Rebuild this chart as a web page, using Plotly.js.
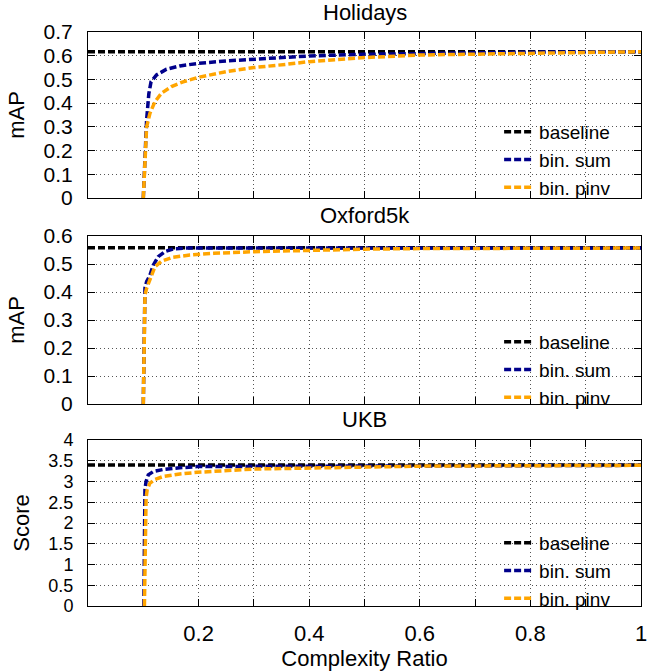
<!DOCTYPE html>
<html>
<head>
<meta charset="utf-8">
<script src="https://cdn.plot.ly/plotly-3.0.1.min.js"></script>
<style>html,body{margin:0;padding:0;background:#fff;}#chart{width:647px;height:671px;}</style>
</head>
<body>
<div id="chart"></div>
<script>
// ---- data ----
const baseX = [0, 1];

const holBase = [0.617, 0.617];
const xHolSum = [0.1, 0.106, 0.110, 0.114, 0.124, 0.142, 0.166, 0.2, 0.25, 0.3, 0.4, 0.5, 0.6, 0.7, 0.8, 0.9, 1.0];
const yHolSum = [0.0, 0.33, 0.44, 0.49, 0.519, 0.543, 0.557, 0.568, 0.578, 0.585, 0.599, 0.606, 0.61, 0.613, 0.615, 0.616, 0.617];
const xHolPinv = [0.1, 0.103, 0.106, 0.112, 0.121, 0.133, 0.151, 0.172, 0.2, 0.25, 0.3, 0.36, 0.4, 0.45, 0.5, 0.6, 0.7, 0.8, 0.9, 1.0];
const yHolPinv = [0.0, 0.16, 0.30, 0.357, 0.406, 0.442, 0.47, 0.49, 0.509, 0.533, 0.55, 0.564, 0.575, 0.584, 0.592, 0.603, 0.607, 0.61, 0.614, 0.617];

const oxBase = [0.558, 0.558];
const xOxSum = [0.1, 0.103, 0.106, 0.112, 0.118, 0.127, 0.139, 0.154, 0.178, 0.2, 0.3, 0.4, 0.6, 0.8, 1.0];
const yOxSum = [0.0, 0.414, 0.437, 0.46, 0.496, 0.526, 0.544, 0.554, 0.557, 0.557, 0.557, 0.557, 0.557, 0.557, 0.557];
const xOxPinv = [0.1, 0.103, 0.106, 0.112, 0.121, 0.133, 0.154, 0.184, 0.227, 0.3, 0.4, 0.5, 0.6, 0.8, 1.0];
const yOxPinv = [0.0, 0.389, 0.413, 0.445, 0.49, 0.51, 0.524, 0.532, 0.538, 0.544, 0.55, 0.553, 0.555, 0.556, 0.557];

const ukBase = [3.40, 3.40];
const xUkSum = [0.101, 0.103, 0.105, 0.109, 0.118, 0.136, 0.166, 0.197, 0.3, 0.4, 0.6, 0.8, 1.0];
const yUkSum = [0.0, 2.8, 3.0, 3.16, 3.24, 3.29, 3.33, 3.36, 3.365, 3.37, 3.38, 3.385, 3.39];
const xUkPinv = [0.102, 0.104, 0.105, 0.107, 0.112, 0.121, 0.136, 0.166, 0.197, 0.3, 0.4, 0.5, 0.6, 0.8, 1.0];
const yUkPinv = [0.0, 2.0, 2.6, 2.8, 2.96, 3.05, 3.12, 3.18, 3.22, 3.3, 3.33, 3.35, 3.37, 3.38, 3.39];

const seriesNames = ['baseline', 'bin. sum', 'bin. pinv'];
const panelTitles = ['Holidays', 'Oxford5k', 'UKB'];
const yTitles = ['mAP', 'mAP', 'Score'];
const xTickVals = [0.2, 0.3, 0.4, 0.5, 0.6, 0.7, 0.8, 0.9, 1.0];
const xTickText = ['0.2', '', '0.4', '', '0.6', '', '0.8', '', '1'];

// ---- styling ----
const colors = ['#000000', '#00008b', '#ffa500'];
const dash = '7px,3px';
const lw = 3.5;

function mk(x, y, i, ax, leg) {
  return {
    x: x, y: y, type: 'scatter', mode: 'lines', name: seriesNames[i],
    xaxis: 'x' + ax, yaxis: 'y' + ax, legend: leg,
    line: {color: colors[i], width: lw, dash: dash},
    hoverinfo: 'skip'
  };
}

const traces = [
  mk(baseX, holBase, 0, '', 'legend'),
  mk(xHolSum, yHolSum, 1, '', 'legend'),
  mk(xHolPinv, yHolPinv, 2, '', 'legend'),
  mk(baseX, oxBase, 0, '2', 'legend2'),
  mk(xOxSum, yOxSum, 1, '2', 'legend2'),
  mk(xOxPinv, yOxPinv, 2, '2', 'legend2'),
  mk(baseX, ukBase, 0, '3', 'legend3'),
  mk(xUkSum, yUkSum, 1, '3', 'legend3'),
  mk(xUkPinv, yUkPinv, 2, '3', 'legend3')
];

const H = 606; // plot-area pixel height (671 - bottom margin)
function pf(px) { return (H - px) / H; }

const common = {
  showline: true, linecolor: '#000', linewidth: 1, mirror: 'ticks',
  ticks: 'inside', ticklen: 7, tickwidth: 1, tickcolor: '#000',
  showgrid: true, gridcolor: '#555', gridwidth: 1, griddash: '1px,3px',
  zeroline: false, fixedrange: true, ticklabeloverflow: 'allow',
  tickfont: {size: 22, color: '#000'}
};

function xa(anchor, labels) {
  return Object.assign({}, common, {
    domain: [0, 1], anchor: anchor, range: [0, 1],
    tickmode: 'array', tickvals: xTickVals, ticktext: xTickText,
    showticklabels: labels, ticklabelstandoff: 8,
    title: labels ? {text: 'Complexity Ratio', font: {size: 22}, standoff: 4} : {text: ''}
  });
}
function ya(anchor, dom, range, dtick, title, fs) {
  return Object.assign({}, common, {
    domain: dom, anchor: anchor, range: range, dtick: dtick, tick0: 0,
    ticklabelstandoff: 10, tickfont: {size: fs, color: '#000'},
    title: {text: title, font: {size: 22}, standoff: 12}
  });
}

const legBase = {
  xanchor: 'right', x: 0.955, yanchor: 'middle',
  bgcolor: 'rgba(0,0,0,0)', borderwidth: 0,
  font: {size: 19, color: '#000'}, tracegroupgap: 0
};

const layout = {
  width: 647, height: 671,
  margin: {l: 88, r: 6, t: 0, b: 65},
  paper_bgcolor: '#fff', plot_bgcolor: '#fff',
  font: {family: 'Liberation Sans, Arial, sans-serif', size: 22, color: '#000'},
  showlegend: true,
  xaxis: xa('y', false),
  xaxis2: xa('y2', false),
  xaxis3: xa('y3', true),
  yaxis: ya('x', [pf(198), pf(32)], [0, 0.7], 0.1, yTitles[0], 21),
  yaxis2: ya('x2', [pf(404), pf(236)], [0, 0.6], 0.1, yTitles[1], 21),
  yaxis3: ya('x3', [0, pf(440)], [0, 4], 0.5, yTitles[2], 18),
  legend: Object.assign({}, legBase, {y: pf(160)}),
  legend2: Object.assign({}, legBase, {y: pf(370)}),
  legend3: Object.assign({}, legBase, {y: pf(571)}),
  annotations: [
    {text: panelTitles[0], xref: 'paper', yref: 'paper', x: 0.5, y: pf(12), showarrow: false, xanchor: 'center', yanchor: 'middle', font: {size: 22}},
    {text: panelTitles[1], xref: 'paper', yref: 'paper', x: 0.5, y: pf(215), showarrow: false, xanchor: 'center', yanchor: 'middle', font: {size: 22}},
    {text: panelTitles[2], xref: 'paper', yref: 'paper', x: 0.5, y: pf(420), showarrow: false, xanchor: 'center', yanchor: 'middle', font: {size: 22}}
  ]
};

Plotly.newPlot('chart', traces, layout, {staticPlot: true, displayModeBar: false});
</script>
</body>
</html>
